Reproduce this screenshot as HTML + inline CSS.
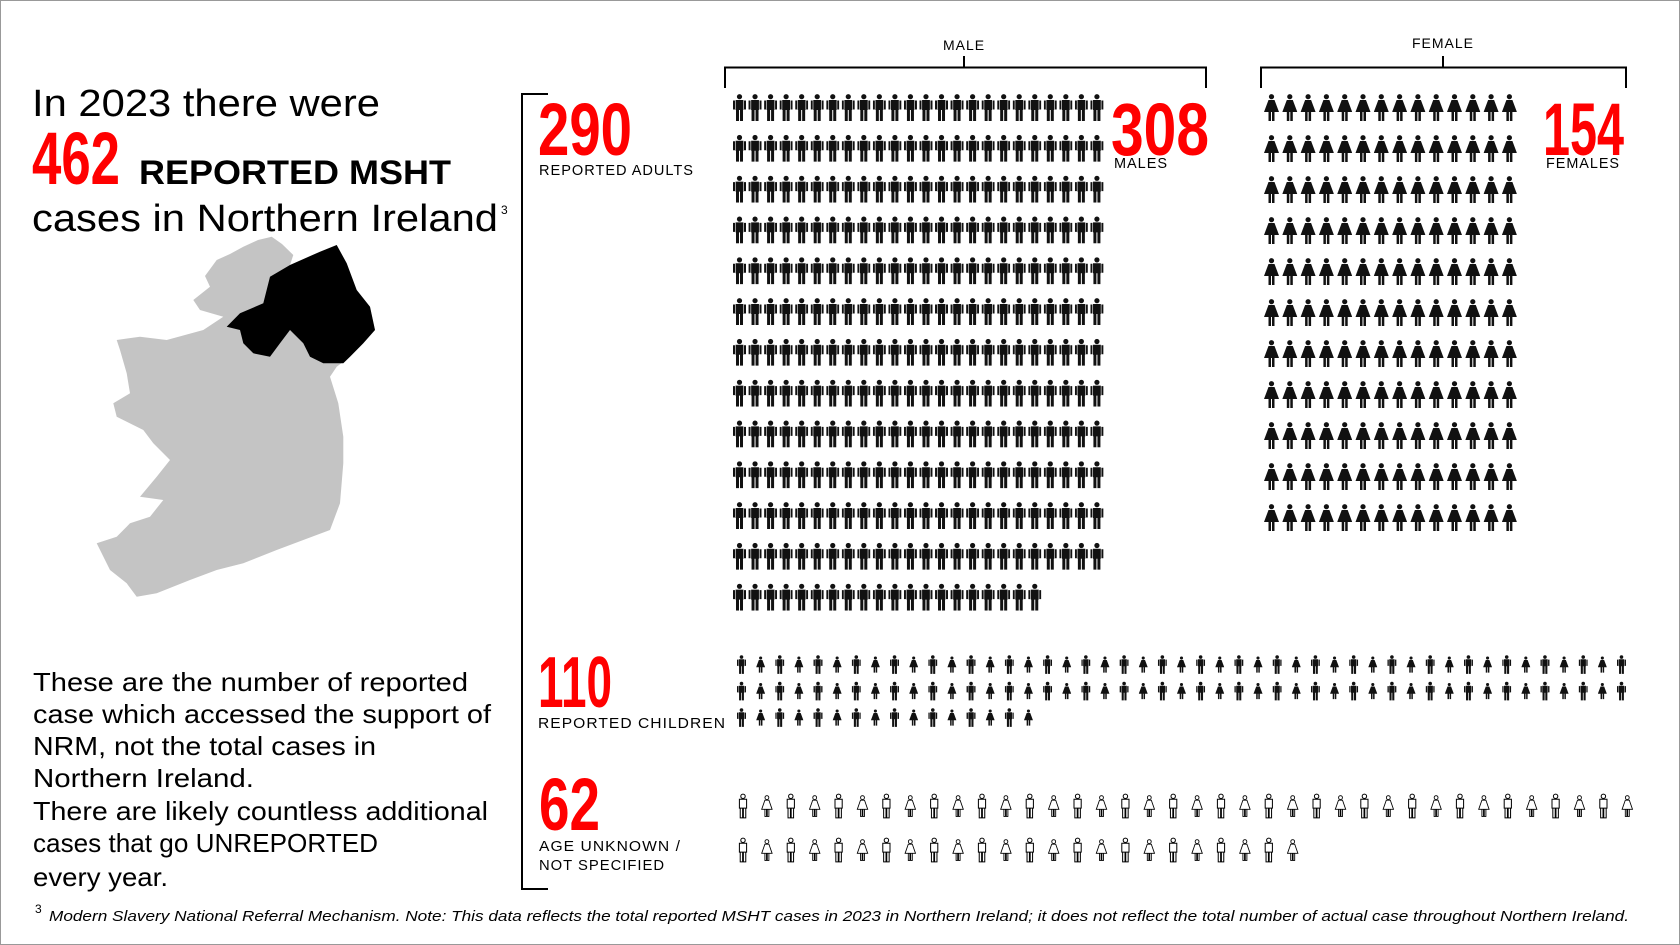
<!DOCTYPE html>
<html><head><meta charset="utf-8"><style>
html,body{margin:0;padding:0;background:#fff;}
svg{display:block;}
text{font-family:"Liberation Sans",sans-serif;fill:#000;}
.red{font-family:"Liberation Sans Narrow","Liberation Sans",sans-serif;font-weight:bold;fill:#ff0000;}
.lab{font-size:15px;letter-spacing:1px;}
.para{font-size:26px;}
</style></head><body>
<svg id="chart" width="1680" height="945" viewBox="0 0 1680 945" xmlns="http://www.w3.org/2000/svg">
<defs>
<symbol id="male" viewBox="0 0 13 27"><circle cx="6.5" cy="2.7" r="2.6"/><path d="M2.6 6h7.8v10H2.6zM0 6.5h2v9H0zM11 6.5h2v9h-2zM3 15.5h3v11.5H3zM7 15.5h3v11.5H7z"/></symbol>
<symbol id="female" viewBox="0 0 15 27"><circle cx="7.5" cy="2.7" r="2.6"/><path d="M4.5 6h6l4.5 12H0zM4.5 17h2.5v10H4.5zM8 17h2.5v10H8z"/></symbol>
<symbol id="maleO" viewBox="0 0 13 27"><circle cx="6.5" cy="3" r="2.4" fill="#fff" stroke="#000" stroke-width="1.1"/><path d="M2.6 6.2h7.8v9.6H2.6zM3.5 15.8h2.6v10.6H3.5zM6.9 15.8h2.6v10.6H6.9z" fill="#fff" stroke="#000" stroke-width="1.1"/></symbol>
<symbol id="femaleO" viewBox="0 0 15 27"><circle cx="7.5" cy="3" r="2.4" fill="#fff" stroke="#000" stroke-width="1.1"/><path d="M5 6.2h5l4 11.5H1zM5 17.7h2v8.8H5zM8 17.7h2v8.8H8z" fill="#fff" stroke="#000" stroke-width="1.1"/></symbol>
</defs>
<rect x="0.5" y="0.5" width="1679" height="944" fill="#fff" stroke="#999"/>

<g>
<text x="32" y="116" font-size="38" textLength="348" lengthAdjust="spacingAndGlyphs">In 2023 there were</text>
<text class="red" x="32" y="184" font-size="74" textLength="88" lengthAdjust="spacingAndGlyphs">462</text>
<text x="139" y="184" font-size="34" font-weight="bold" textLength="312" lengthAdjust="spacingAndGlyphs">REPORTED MSHT</text>
<text x="32" y="231" font-size="38" textLength="466" lengthAdjust="spacingAndGlyphs">cases in Northern Ireland</text>
<text x="501" y="214" font-size="12">3</text>
</g>

<g>
<path fill="#c4c4c4" d="M271.7,236.7L282,244L293.3,255L290,265L320,251.7L336.7,245L346.7,263.3L356.7,290L370,306.7L375,330L363.3,343.3L350,356.7L336.7,366.7L330,376.7L338.3,403.3L343.3,436.7L343.3,463.3L340,503.3L330,530L303.3,540L276.7,550L243.3,563.3L216.7,570L190,580L156.7,593.3L136.7,596.7L126.7,583.3L110,570L96.7,543.3L116.7,536.7L130,523.3L150,516.7L163.3,500L140,496.7L156.7,476.7L170,460L153.3,443.3L143.3,430L116.7,416.7L113.3,403.3L130,393.3L126.7,373.3L120,350L116.7,340L140,336.7L166.7,340L203.3,330L223.3,316.7L200,310L193.3,300L210,286.7L205,276L216.7,260L230,254L243.3,246.7L258,240Z"/>
<path fill="#000" d="M290,265L320,251.7L336.7,245L346.7,263.3L356.7,290L370,306.7L375,330L363.3,343.3L350,356.7L343.3,363.3L323.3,363.3L310,356.7L303.3,343.3L290,330L280,343.3L270,356.7L253.3,353.3L243.3,343.3L240,330L226.7,326.7L240,313.3L263.3,303.3L270,276.7Z"/>
</g>

<g>
<text class="para" x="33" y="691" textLength="435" lengthAdjust="spacingAndGlyphs">These are the number of reported</text>
<text class="para" x="33" y="723" textLength="458" lengthAdjust="spacingAndGlyphs">case which accessed the support of</text>
<text class="para" x="33" y="755" textLength="343" lengthAdjust="spacingAndGlyphs">NRM, not the total cases in</text>
<text class="para" x="33" y="787" textLength="221" lengthAdjust="spacingAndGlyphs">Northern Ireland.</text>
<text class="para" x="33" y="820" textLength="455" lengthAdjust="spacingAndGlyphs">There are likely countless additional</text>
<text class="para" x="33" y="852" textLength="345" lengthAdjust="spacingAndGlyphs">cases that go UNREPORTED</text>
<text class="para" x="33" y="886" textLength="135" lengthAdjust="spacingAndGlyphs">every year.</text>
</g>

<g>
<text x="35" y="913" font-size="12">3</text>
<text x="49" y="921" font-size="15" font-style="italic" textLength="1580" lengthAdjust="spacingAndGlyphs">Modern Slavery National Referral Mechanism. Note: This data reflects the total reported MSHT cases in 2023 in Northern Ireland; it does not reflect the total number of actual case throughout Northern Ireland.</text>
</g>

<path d="M548,94H522V889H548" fill="none" stroke="#000" stroke-width="2"/>
<path d="M725,88V67.5H1206V88M964,67.5V56" fill="none" stroke="#000" stroke-width="2"/>
<path d="M1261,88V67.5H1626V88M1443,67.5V56" fill="none" stroke="#000" stroke-width="2"/>
<text x="964" y="50" font-size="14" text-anchor="middle" letter-spacing="1">MALE</text>
<text x="1443" y="48" font-size="14" text-anchor="middle" letter-spacing="1">FEMALE</text>

<text class="red" x="538" y="155" font-size="74" textLength="94" lengthAdjust="spacingAndGlyphs">290</text>
<text class="lab" x="539" y="175" textLength="155" lengthAdjust="spacingAndGlyphs">REPORTED ADULTS</text>
<text class="red" x="1111" y="155" font-size="74" textLength="98" lengthAdjust="spacingAndGlyphs">308</text>
<text class="lab" x="1114" y="168" textLength="54" lengthAdjust="spacingAndGlyphs">MALES</text>
<text class="red" x="1543" y="155" font-size="74" textLength="81" lengthAdjust="spacingAndGlyphs">154</text>
<text class="lab" x="1546" y="168" textLength="74" lengthAdjust="spacingAndGlyphs">FEMALES</text>
<text class="red" x="538" y="707" font-size="72" textLength="74" lengthAdjust="spacingAndGlyphs">110</text>
<text class="lab" x="538" y="728" textLength="188" lengthAdjust="spacingAndGlyphs">REPORTED CHILDREN</text>
<text class="red" x="539" y="830" font-size="74" textLength="61" lengthAdjust="spacingAndGlyphs">62</text>
<text class="lab" x="539" y="851" textLength="142" lengthAdjust="spacingAndGlyphs">AGE UNKNOWN /</text>
<text class="lab" x="539" y="870" textLength="126" lengthAdjust="spacingAndGlyphs">NOT SPECIFIED</text>

<g id="icons"></g>
</svg>
<script>
const categories = ["males", "females", "children", "unknown"];
const counts = [308, 154, 110, 62];
const perRow = [24, 14, 47, 38];

const layout = {
  males:    {x0:733,  y0:94,  dx:15.54, dy:40.8, w:13, h:27, sym:["male"]},
  females:  {x0:1264, y0:94,  dx:18.3,  dy:41,   w:15, h:27, sym:["female"]},
  children: {x0:737,  y0:655, dx:19.13, dy:26.5, w:9,  h:19, sym:["male","female"]},
  unknown:  {x0:737,  y0:793, dx:23.9,  dy:44,   w:12, h:26, sym:["maleO","femaleO"]}
};
const NS = "http://www.w3.org/2000/svg";
const root = document.getElementById("icons");
categories.forEach(function(cat, ci){
  const L = layout[cat];
  const g = document.createElementNS(NS, "g");
  
  
  root.appendChild(g);
  for (let i = 0; i < counts[ci]; i++) {
    const r = Math.floor(i / perRow[ci]), c = i % perRow[ci];
    const u = document.createElementNS(NS, "use");
    u.setAttribute("href", "#" + L.sym[c % L.sym.length]);
    u.setAttribute("x", L.x0 + c * L.dx);
    u.setAttribute("y", L.y0 + r * L.dy);
    u.setAttribute("width", L.w);
    u.setAttribute("height", L.h);
    u.setAttribute("fill", "#111");
    
    
    g.appendChild(u);
  }
});
</script>
</body></html>
